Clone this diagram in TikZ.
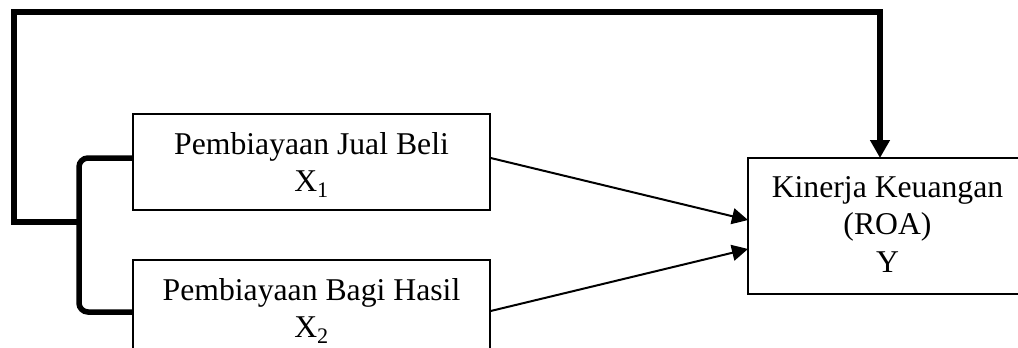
\documentclass[tikz,border=0pt]{standalone}
\usepackage{fontspec}
\setmainfont{Liberation Serif}
\usetikzlibrary{arrows.meta}
\tikzset{
  boxnode/.style={draw, line width=1.4pt, rectangle, inner sep=0pt},
  linetext/.style={inner sep=0pt, anchor=base, font=\fontsize{31.7}{37.5}\selectfont},
  thinarrow/.style={line width=2pt, -{Triangle[length=16pt,width=16pt]}},
  thickline/.style={line width=5.5pt, line join=miter},
}
\newcommand{\twolines}[2]{\begin{tabular}[t]{@{}c@{}}#1\\#2\end{tabular}}
\newcommand{\threelines}[3]{\begin{tabular}[t]{@{}c@{}}#1\\#2\\#3\end{tabular}}
\begin{document}
\begin{tikzpicture}[x=1pt,y=-1pt]
\useasboundingbox (0,0) rectangle (1018,348);
% boxes
\node[boxnode, minimum width=357pt, minimum height=96pt] (b1) at (311.5,162) {};
\node[boxnode, minimum width=357pt, minimum height=96pt] (b2) at (311.5,308) {};
\node[boxnode, minimum width=279pt, minimum height=136pt] (by) at (887.5,226) {};
% texts
\node[linetext] (t1) at (311.5,154) {\twolines{Pembiayaan Jual Beli}{X\textsubscript{1}}};
\node[linetext] (t2) at (311.5,300) {\twolines{Pembiayaan Bagi Hasil}{X\textsubscript{2}}};
\node[linetext] (ty) at (887.5,197) {\threelines{Kinerja Keuangan}{(ROA)}{Y}};
% helper coordinates
\coordinate (j) at (79,222);
\coordinate (tl) at (14,12);
\coordinate (tr) at (880,12);
\coordinate (yin) at (880,158);
\coordinate (a1) at (748,220);
\coordinate (a2) at (748,249);
% bracket
\draw[thickline, rounded corners=9pt] (b1.west |- 0,158) -- (79,158) -- (79,312) -- (b2.west |- 0,312);
% loop to Y
\draw[thickline, -{Triangle[length=18pt,width=19pt]}] (j) -- (14,222) -- (tl) -- (tr) -- (yin);
% arrows
\draw[thinarrow] (b1.east |- 0,158) -- (a1);
\draw[thinarrow] (b2.east |- 0,311) -- (a2);
\end{tikzpicture}
\end{document}
